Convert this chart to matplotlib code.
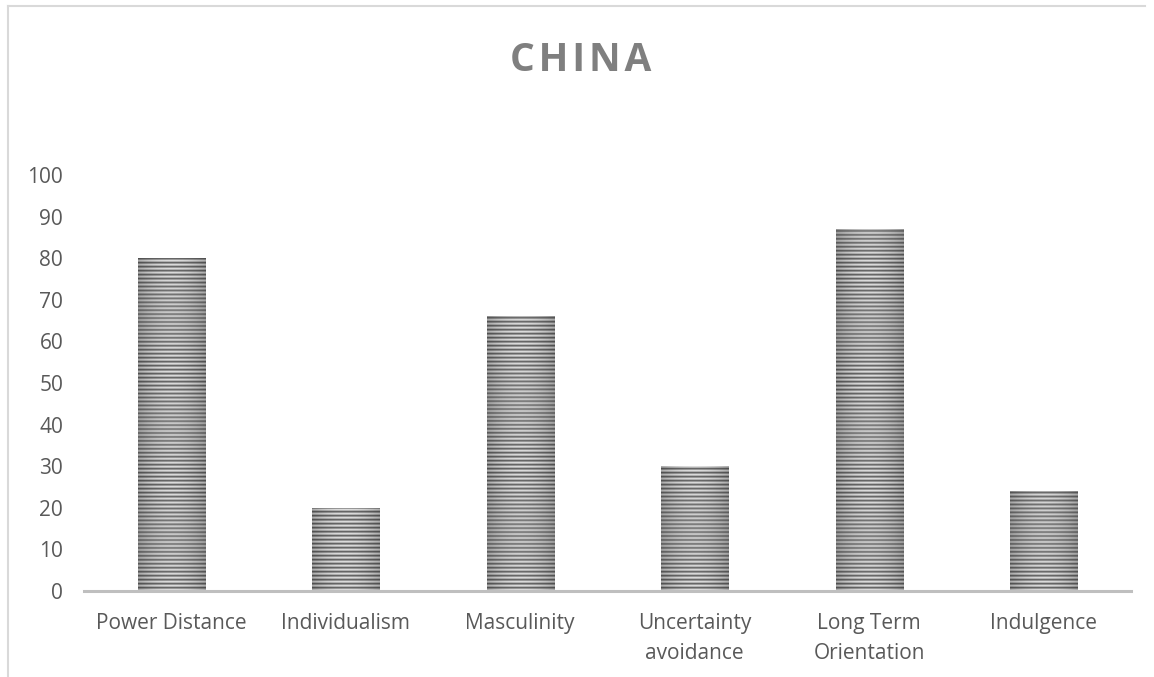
import numpy as np
import matplotlib.pyplot as plt
from matplotlib.lines import Line2D

# Hofstede dimension scores
categories = ["Power Distance", "Individualism", "Masculinity",
              "Uncertainty\navoidance", "Long Term\nOrientation", "Indulgence"]
scores = [80, 20, 66, 30, 87, 24]
y_ticks = list(range(0, 101, 10))

TEXT = "#595959"
BAR_W = 0.385


def stripe_texture(n_rows=420, n_cols=60):
    # horizontal stripes, darker towards the bar edges
    pattern = np.array([0.40, 0.60, 0.86, 0.70])
    rows = pattern[np.arange(n_rows) % len(pattern)]
    u = np.linspace(-1, 1, n_cols)
    shade = 1.0 - 0.22 * u ** 2
    img = rows[:, None] * shade[None, :]
    return np.clip(img, 0, 1)


def main():
    plt.rcParams['font.family'] = ['Open Sans', 'DejaVu Sans']
    fig = plt.figure(figsize=(11.54, 6.77), dpi=100)
    ax = fig.add_axes([0.0728, 0.127, 0.9072, 0.6145])

    x = np.arange(len(categories))
    bars = ax.bar(x, scores, width=BAR_W, color='none', edgecolor='none')

    tex = stripe_texture()
    for bar in bars:
        x0 = bar.get_x()
        im = ax.imshow(tex, cmap='gray', vmin=0, vmax=1, aspect='auto',
                       extent=[x0, x0 + bar.get_width(), 0, 100],
                       interpolation='antialiased', zorder=2)
        im.set_clip_path(bar)

    ax.set_xlim(-0.5, len(categories) - 0.5)
    ax.set_ylim(0, 100)
    ax.set_yticks(y_ticks)
    ax.set_xticks(x)
    ax.set_xticklabels(categories, linespacing=1.52)

    for side in ['top', 'right', 'left']:
        ax.spines[side].set_visible(False)
    ax.spines['bottom'].set_color('#bfbfbf')
    ax.spines['bottom'].set_linewidth(2.2)
    ax.spines['bottom'].set_zorder(3)

    ax.tick_params(axis='y', length=0, pad=15, labelsize=15, labelcolor=TEXT)
    ax.tick_params(axis='x', length=0, pad=16, labelsize=15, labelcolor=TEXT)

    fig.text(0.503, 0.91, "C\u200aH\u200aI\u200aN\u200aA", ha='center', va='center',
             fontsize=28, fontweight='bold', color='#7f7f7f')

    # chart area border (top and left edges)
    fig.add_artist(Line2D([0.0065, 0.992], [0.991, 0.991], color='#d9d9d9', lw=1.5))
    fig.add_artist(Line2D([0.0065, 0.0065], [0.0, 0.991], color='#d9d9d9', lw=1.5))

    fig.savefig("out.png", dpi=100)


if __name__ == "__main__":
    main()
